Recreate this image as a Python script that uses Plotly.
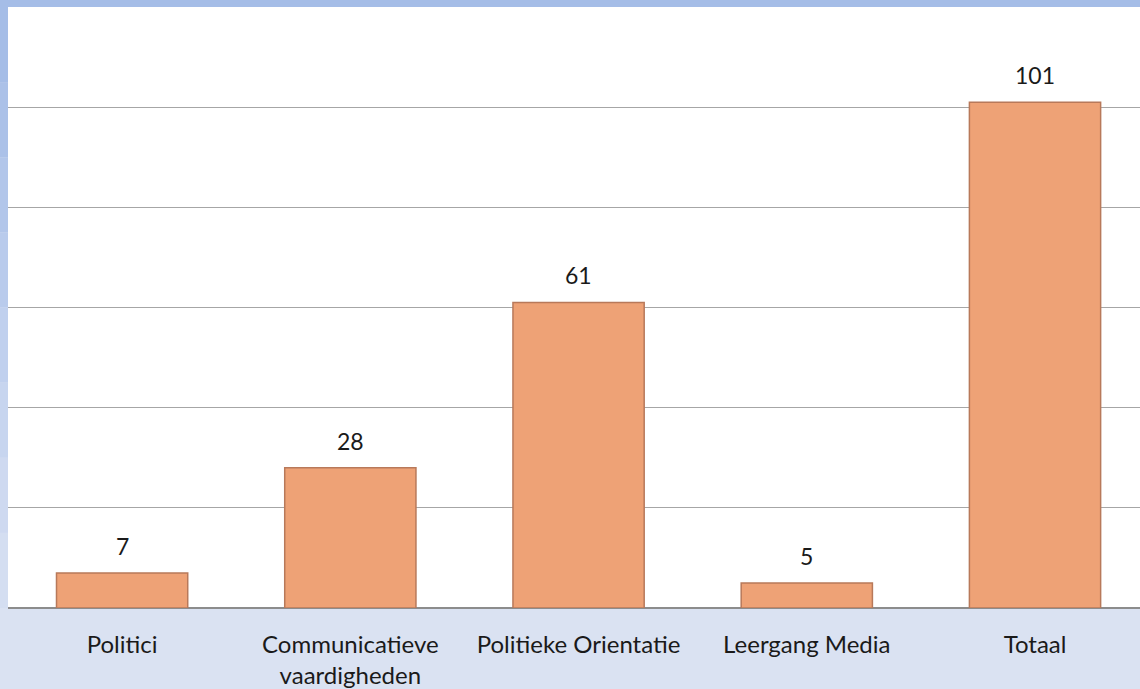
import plotly.graph_objects as go

categories = ["Politici", "Communicatieve<br>vaardigheden", "Politieke Orientatie", "Leergang Media", "Totaal"]
values = [7, 28, 61, 5, 101]
value_labels = ["7", "28", "61", "5", "101"]

FONT = "Lato"

fig = go.Figure()
fig.add_trace(go.Bar(
    x=categories, y=values, width=0.575,
    marker=dict(color="#eea276", line=dict(color="#b8795a", width=1.5)),
    hoverinfo="skip",
))

for c, v, t in zip(categories, values, value_labels):
    fig.add_annotation(x=c, y=v, text=t, showarrow=False, yanchor="bottom",
                       yshift=11, font=dict(family=FONT, size=23, color="#1a1a1a"))

# decorative frame: top strip and left gradient strip
shapes = [dict(type="rect", xref="paper", yref="paper", x0=-0.02, x1=1.02, y0=1.0, y1=1.03,
               fillcolor="#a5bde7", line_width=0, layer="below")]
left_cols = ["#a5bde7", "#abc1e8", "#b2c6ea", "#b9cbec", "#c0d0ee", "#c7d5ef", "#ced9f0", "#d4def1"]
n = len(left_cols)
for i, col in enumerate(left_cols):
    shapes.append(dict(type="rect", xref="paper", yref="paper", x0=-0.01, x1=0,
                       y0=1 - (i + 1) / n, y1=1 - i / n, fillcolor=col, line_width=0, layer="below"))

fig.update_layout(
    width=1140, height=689,
    margin=dict(l=8, r=0, t=7, b=75),
    paper_bgcolor="#dae2f2",
    plot_bgcolor="#ffffff",
    showlegend=False,
    shapes=shapes,
    xaxis=dict(range=[-0.5, 4.46], showgrid=False, zeroline=False, showline=False,
               ticks="outside", ticklen=0, ticklabelstandoff=15,
               tickfont=dict(family=FONT, size=24, color="#1a1a1a"), fixedrange=True),
    yaxis=dict(range=[0, 120], dtick=20, showgrid=True, gridcolor="#a6a6a6", gridwidth=1,
               zeroline=True, zerolinecolor="#8c8c8c", zerolinewidth=1.5,
               showticklabels=False, ticks="", fixedrange=True),
)

fig.write_html("out.html", config={"displayModeBar": False},
               post_script="document.body.style.margin='0';document.body.style.overflow='hidden';")
